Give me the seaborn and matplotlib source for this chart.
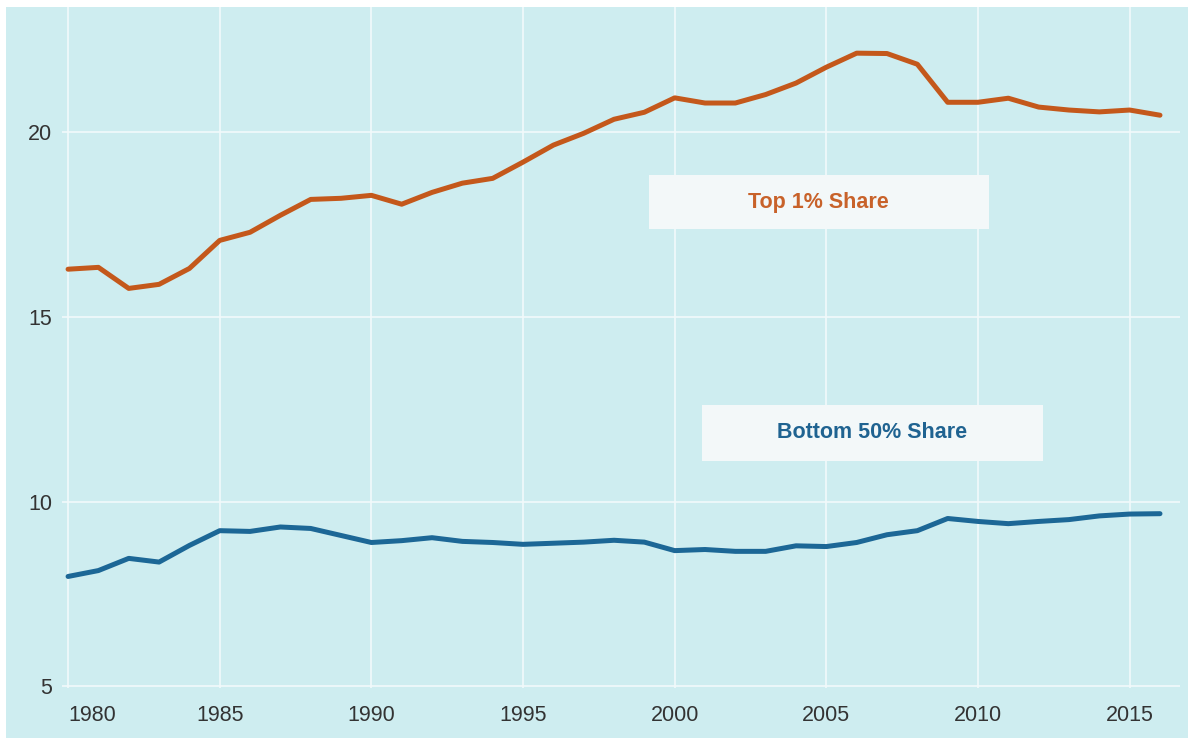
import matplotlib
matplotlib.use("Agg")
import matplotlib.pyplot as plt
from matplotlib.patches import Rectangle
import seaborn as sns
import pandas as pd

years = list(range(1980, 2017))
top1_share = [16.29, 16.34, 15.77, 15.88, 16.31, 17.07, 17.29, 17.75, 18.18, 18.21,
              18.29, 18.05, 18.37, 18.62, 18.75, 19.19, 19.65, 19.97, 20.35, 20.54,
              20.93, 20.79, 20.79, 21.02, 21.33, 21.76, 22.14, 22.13, 21.84, 20.81,
              20.81, 20.92, 20.68, 20.60, 20.55, 20.60, 20.46]
bottom50_share = [7.97, 8.13, 8.46, 8.36, 8.81, 9.21, 9.19, 9.31, 9.27, 9.08,
                  8.89, 8.94, 9.02, 8.92, 8.89, 8.84, 8.87, 8.90, 8.95, 8.90,
                  8.67, 8.70, 8.65, 8.65, 8.80, 8.78, 8.89, 9.10, 9.21, 9.54,
                  9.46, 9.40, 9.46, 9.51, 9.61, 9.66, 9.67]
series_names = ["Top 1% Share", "Bottom 50% Share"]
series_colors = ["#c4581b", "#1c6796"]
x_ticks = [1980, 1985, 1990, 1995, 2000, 2005, 2010, 2015]
y_ticks = [5, 10, 15, 20]

df = pd.DataFrame({
    "year": years * 2,
    "share": top1_share + bottom50_share,
    "series": [series_names[0]] * len(years) + [series_names[1]] * len(years),
})

BG = "#ceedf0"
sns.set_theme(style="darkgrid", rc={
    "axes.facecolor": BG,
    "figure.facecolor": BG,
    "grid.color": "#f2fafb",
    "grid.linewidth": 1.2,
    "axes.edgecolor": BG,
})
plt.rcParams["font.family"] = ["Liberation Sans", "DejaVu Sans"]

fig = plt.figure(figsize=(11.88, 7.38), dpi=100)
# white margins at top and left
fig.patches.append(Rectangle((0, 1 - 7 / 738), 1, 7 / 738, transform=fig.transFigure,
                             facecolor="white", edgecolor="none", zorder=-1))
fig.patches.append(Rectangle((0, 0), 6 / 1188, 1, transform=fig.transFigure,
                             facecolor="white", edgecolor="none", zorder=-1))

ax = fig.add_axes([62 / 1188, 50 / 738, (1180 - 62) / 1188, (688 - 7) / 738])
sns.lineplot(data=df, x="year", y="share", hue="series", hue_order=series_names,
             palette=series_colors, linewidth=3.6, legend=False, ax=ax)

ax.set_xlim(1979.80, 2016.66)
ax.set_ylim(4.95, 23.39)
ax.set_xticks(x_ticks)
ax.set_yticks(y_ticks)
ax.set_xticklabels([str(t) for t in x_ticks])
ax.set_yticklabels([str(t) for t in y_ticks])
ax.set_xlabel("")
ax.set_ylabel("")
ax.tick_params(axis="both", length=0, labelsize=15.5, colors="#333333")
ax.tick_params(axis="x", pad=12)
ax.tick_params(axis="y", pad=7)
ax.get_xticklabels()[0].set_horizontalalignment("left")
for s in ax.spines.values():
    s.set_visible(False)

# label boxes
label_boxes = [  # x0, x1, y0, y1
    (1999.14, 2010.36, 17.37, 18.83),
    (2000.89, 2012.14, 11.11, 12.60),
]
label_colors = ["#c8622a", "#1f6391"]
for name, color, (x0, x1, y0, y1) in zip(series_names, label_colors, label_boxes):
    ax.add_patch(Rectangle((x0, y0), x1 - x0, y1 - y0, facecolor="#f3f8f9",
                           edgecolor="none", zorder=3))
    ax.text((x0 + x1) / 2, (y0 + y1) / 2, name, color=color, fontsize=15.5,
            fontweight="bold", ha="center", va="center", zorder=4)

fig.savefig("out.png", dpi=100, facecolor=BG)
